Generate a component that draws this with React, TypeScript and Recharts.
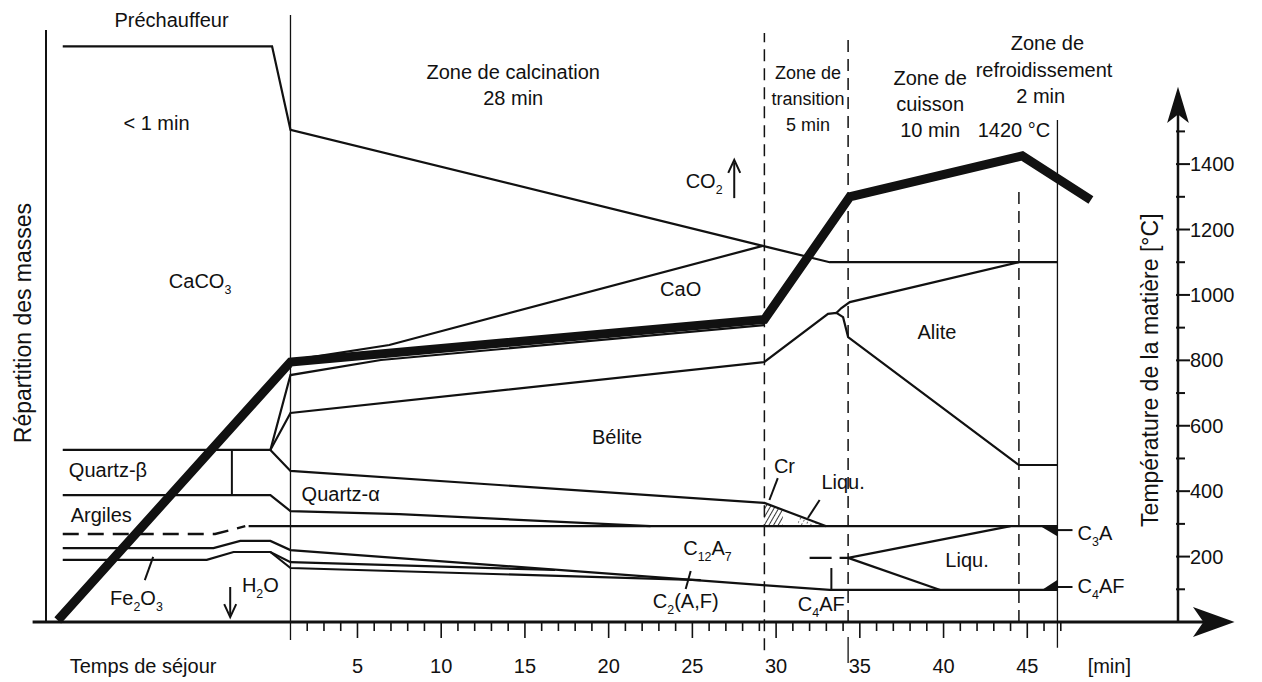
import React from "react";
import {
  Area,
  ComposedChart,
  Line,
  ReferenceDot,
  ReferenceLine,
  XAxis,
  YAxis,
} from "recharts";

const FONT = '"Liberation Sans", Arial, Helvetica, sans-serif';
const INK = "#111";

// time axis in minutes (the preheater is drawn to the left of 0), value axis in °C
const minuteTicks = [
  2, 3, 4, 5, 6, 7, 8, 9, 10, 11, 12, 13, 14, 15, 16, 17, 18, 19, 20, 21, 22, 23, 24, 25,
  26, 27, 28, 29, 30, 31, 32, 33, 34, 35, 36, 37, 38, 39, 40, 41, 42, 43, 44, 45, 46, 47,
];
const minuteLabels = [5, 10, 15, 20, 25, 30, 35, 40, 45];
const tempTicks = [100, 200, 300, 400, 500, 600, 700, 800, 900, 1000, 1100, 1200, 1300, 1400, 1500];
const tempLabels = [200, 400, 600, 800, 1000, 1200, 1400];

// material temperature (thick curve)
const tempX = [-12.9, 1.0, 29.3, 34.4, 44.7, 48.8];
const tempY = [5, 795, 925, 1300, 1425, 1290];

// mass distribution boundaries
const caco3X = [-12.6, -0.1, 1.0, 29.2, 33.2, 46.8];
const caco3Y = [1760, 1760, 1505, 1150, 1100, 1100];
const caoUpX = [1.0, 6.9, 29.2];
const caoUpY = [800, 847, 1150];
const caoLowX = [-0.2, 1.0, 6.4, 29.3];
const caoLowY = [526, 755, 801, 908];
const beliteX = [-12.6, -0.2, 1.0, 29.3, 33.1, 33.6, 34.0, 34.3, 44.5, 46.8];
const beliteY = [526, 526, 639, 795, 942, 945, 932, 871, 480, 480];
const aliteX = [33.6, 33.9, 34.4, 44.5];
const aliteY = [945, 960, 978, 1100];
const quartzAX = [-0.2, 1.0, 29.3, 33.0];
const quartzAY = [526, 462, 364, 293];
const argilesX = [-12.6, -0.2, 1.0, 7.5, 22.5];
const argilesY = [388, 388, 339, 330, 293];
const dashedX = [-12.6, -3.5, -1.7];
const dashedY = [269, 269, 293];
const c3aX = [-1.5, 46.8];
const c3aY = [293, 293];
const c3aEndX = [45.9, 46.8];
const c3aEndY = [293, 266];
const c4afX = [-12.6, -3.6, -2.0, -0.2, 1.0, 29.2, 33.2, 46.8];
const c4afY = [226, 226, 248, 248, 220, 113, 98, 98];
const fe1X = [-12.6, -4.0, -2.4, -0.2, 1.0, 16.8];
const fe1Y = [190, 190, 214, 214, 183, 159];
const fe2X = [-0.2, 1.0, 25.5];
const fe2Y = [214, 165, 128];
const c4afEndX = [46.0, 46.8];
const c4afEndY = [98, 125];
const liquDashX = [32.0, 34.3];
const liquDashY = [196, 196];
const liquUpX = [34.3, 44.0];
const liquUpY = [196, 293];
const liquLowX = [34.3, 39.8];
const liquLowY = [196, 98];

const crZone = [
  { x: 29.3, r: [293, 364] },
  { x: 30.4, r: [293, 343] },
];
const liquZone = [
  { x: 31.3, r: [293, 326] },
  { x: 32.6, r: [293, 301] },
];
// small filled corners where the C3A and C4AF lines meet the end of the kiln
const c3aCorner = [
  { x: 45.9, r: [293, 293] },
  { x: 46.8, r: [266, 293] },
];
const c4afCorner = [
  { x: 46.0, r: [98, 98] },
  { x: 46.8, r: [98, 125] },
];

const zip = (xs: number[], ys: number[]) => xs.map((x, i) => ({ x, y: ys[i] }));

const thin = [
  [caco3X, caco3Y],
  [caoUpX, caoUpY],
  [caoLowX, caoLowY],
  [beliteX, beliteY],
  [aliteX, aliteY],
  [quartzAX, quartzAY],
  [argilesX, argilesY],
  [c3aX, c3aY],
  [c3aEndX, c3aEndY],
  [c4afX, c4afY],
  [fe1X, fe1Y],
  [fe2X, fe2Y],
  [c4afEndX, c4afEndY],
  [liquUpX, liquUpY],
  [liquLowX, liquLowY],
].map(([xs, ys]) => zip(xs, ys));

// zone borders and small pointer strokes: [x1, y1, x2, y2, kind]
const segments: [number, number, number, number, string][] = [
  [1.0, -55, 1.0, 1856, "hair"],
  [29.3, -86, 29.3, 1801, "dash"],
  [34.3, 0, 34.3, 1785, "dash"],
  [34.3, -46, 34.3, -125, "hair"],
  [44.5, 0, 44.5, 1336, "dash"],
  [46.8, -79, 46.8, 1535, "hair"],
  [-13.6, 0, -13.6, 1810, "axis"],
  [-2.5, 388, -2.5, 526, "thin"],
  [-7.2, 199, -7.7, 128, "thin"],
  [30.1, 440, 29.6, 373, "thin"],
  [32.6, 373, 31.9, 318, "thin"],
  [24.9, 156, 24.6, 101, "thin"],
  [33.3, 165, 33.3, 98, "thin"],
  [46.8, 281, 47.7, 281, "thin"],
  [46.8, 107, 47.7, 107, "thin"],
  [-2.6, 107, -2.6, 22, "thin"],
  [27.5, 1296, 27.5, 1405, "thin"],
  [-14.4, 0, 56.0, 0, "xaxis"],
  [54.0, 0, 54.0, 1570, "yaxis"],
];

const labels: { x: number; y: number; t: string; s?: number; a?: string; r?: boolean }[] = [
  { x: -6.1, y: 1840, t: "Préchauffeur" },
  { x: -7.0, y: 1525, t: "< 1 min" },
  { x: -4.4, y: 1042, t: "CaCO_3" },
  { x: 14.3, y: 1681, t: "Zone de calcination" },
  { x: 14.3, y: 1602, t: "28 min" },
  { x: 31.9, y: 1681, t: "Zone de", s: 18 },
  { x: 31.9, y: 1602, t: "transition", s: 18 },
  { x: 31.9, y: 1522, t: "5 min", s: 18 },
  { x: 39.2, y: 1663, t: "Zone de" },
  { x: 39.2, y: 1584, t: "cuisson" },
  { x: 39.2, y: 1504, t: "10 min" },
  { x: 46.2, y: 1770, t: "Zone de" },
  { x: 46.0, y: 1688, t: "refroidissement" },
  { x: 45.8, y: 1608, t: "2 min" },
  { x: 44.2, y: 1504, t: "1420 °C" },
  { x: 25.7, y: 1348, t: "CO_2" },
  { x: 24.3, y: 1018, t: "CaO" },
  { x: 39.6, y: 887, t: "Alite" },
  { x: 20.5, y: 566, t: "Bélite" },
  { x: 30.5, y: 477, t: "Cr" },
  { x: 34.0, y: 428, t: "Liqu." },
  { x: -9.9, y: 465, t: "Quartz-β" },
  { x: 4.0, y: 391, t: "Quartz-α" },
  { x: -10.3, y: 327, t: "Argiles" },
  { x: -8.2, y: 73, t: "Fe_2O_3" },
  { x: -0.8, y: 113, t: "H_2O" },
  { x: 25.9, y: 226, t: "C_12A_7" },
  { x: 24.6, y: 64, t: "C_2(A,F)" },
  { x: 32.7, y: 55, t: "C_4AF" },
  { x: 41.4, y: 190, t: "Liqu." },
  { x: 48.0, y: 272, t: "C_3A", a: "start" },
  { x: 48.0, y: 110, t: "C_4AF", a: "start" },
  { x: -7.8, y: -135, t: "Temps de séjour" },
  { x: 49.9, y: -135, t: "[min]" },
  { x: -15.0, y: 914, t: "Répartition des masses", s: 23, r: true },
  { x: 52.3, y: 770, t: "Température de la matière [°C]", s: 23, r: true },
];

const Rich = ({ x, y, text, size = 20, anchor = "middle", rotate = false }: any) => {
  const parts: string[] = text.match(/_\d+|[^_]+/g) || [];
  const shift = Math.round(size * 0.3);
  let low = false;
  return (
    <text
      x={x}
      y={y + size * 0.36}
      textAnchor={anchor}
      fontFamily={FONT}
      fontSize={size}
      fill={INK}
      transform={rotate ? `rotate(-90 ${x} ${y})` : undefined}
    >
      {parts.map((p, i) => {
        if (p.startsWith("_")) {
          const el = (
            <tspan key={i} dy={low ? 0 : shift} fontSize={size * 0.62}>
              {p.slice(1)}
            </tspan>
          );
          low = true;
          return el;
        }
        const el = (
          <tspan key={i} dy={low ? -shift : 0}>
            {p}
          </tspan>
        );
        low = false;
        return el;
      })}
    </text>
  );
};

const XTick = (p: any) => {
  const v = p.payload.value;
  const major = minuteLabels.includes(v);
  return (
    <g>
      <line x1={p.x} x2={p.x} y1={p.y} y2={p.y + (major ? 16 : 9)} stroke={INK} strokeWidth={1.6} />
      {major && (
        <text x={p.x} y={p.y + 51} textAnchor="middle" fontFamily={FONT} fontSize={20} fill={INK}>
          {v}
        </text>
      )}
    </g>
  );
};

const YTick = (p: any) => {
  const v = p.payload.value;
  const major = tempLabels.includes(v);
  return (
    <g>
      <line x1={p.x - 2} x2={p.x + (major ? 12 : 7)} y1={p.y} y2={p.y} stroke={INK} strokeWidth={2} />
      {major && (
        <text x={p.x + 12} y={p.y + 7} textAnchor="start" fontFamily={FONT} fontSize={20} fill={INK}>
          {v}
        </text>
      )}
    </g>
  );
};

const segStyle: Record<string, any> = {
  hair: { stroke: INK, strokeWidth: 1.3 },
  dash: { stroke: INK, strokeWidth: 1.5, strokeDasharray: "12 7" },
  axis: { stroke: INK, strokeWidth: 2 },
  thin: { stroke: INK, strokeWidth: 2 },
  xaxis: { stroke: INK, strokeWidth: 3 },
  yaxis: { stroke: INK, strokeWidth: 2.5 },
};

const arrow = (d: (cx: number, cy: number) => string, filled: boolean) => (p: any) => (
  <path
    d={d(p.cx, p.cy)}
    fill={filled ? INK : "none"}
    stroke={INK}
    strokeWidth={2}
    strokeLinejoin="miter"
  />
);

const zoneFill = (data: any[], fill: string, key: string) => (
  <Area
    key={key}
    data={data}
    dataKey="r"
    type="linear"
    stroke="none"
    fill={fill}
    fillOpacity={1}
    dot={false}
    activeDot={false}
    isAnimationActive={false}
  />
);

export default function App() {
  return (
    <div style={{ position: "absolute", left: 0, top: 0, width: 1262, height: 682, background: "#fff" }}>
      <ComposedChart width={1262} height={682} margin={{ top: 30, right: 24, bottom: 20, left: 46 }}>
        <defs>
          <pattern id="hatchCr" width="4" height="4" patternUnits="userSpaceOnUse" patternTransform="rotate(30)">
            <line x1="0" y1="0" x2="0" y2="4" stroke={INK} strokeWidth="1.7" />
          </pattern>
          <pattern id="hatchLiq" width="4" height="4" patternUnits="userSpaceOnUse" patternTransform="rotate(30)">
            <line x1="0" y1="0" x2="0" y2="2" stroke={INK} strokeWidth="1.2" />
          </pattern>
        </defs>
        <XAxis
          type="number"
          dataKey="x"
          domain={[-13.6, 54]}
          ticks={minuteTicks}
          interval={0}
          axisLine={false}
          tickLine={false}
          tickSize={0}
          tickMargin={0}
          height={40}
          tick={<XTick />}
        />
        <YAxis
          orientation="right"
          type="number"
          domain={[0, 1810]}
          ticks={tempTicks}
          interval={0}
          axisLine={false}
          tickLine={false}
          tickSize={0}
          tickMargin={0}
          width={60}
          tick={<YTick />}
        />
        {zoneFill(crZone, "url(#hatchCr)", "cr")}
        {zoneFill(liquZone, "url(#hatchLiq)", "liq")}
        {zoneFill(c3aCorner, INK, "c3a")}
        {zoneFill(c4afCorner, INK, "c4af")}
        {segments.map(([x1, y1, x2, y2, kind], i) => (
          <ReferenceLine
            key={"s" + i}
            segment={[
              { x: x1, y: y1 },
              { x: x2, y: y2 },
            ]}
            ifOverflow="visible"
            {...segStyle[kind]}
          />
        ))}
        {thin.map((d, i) => (
          <Line
            key={"l" + i}
            data={d}
            dataKey="y"
            type="linear"
            stroke={INK}
            strokeWidth={2.2}
            dot={false}
            activeDot={false}
            isAnimationActive={false}
          />
        ))}
        <Line
          data={zip(dashedX, dashedY)}
          dataKey="y"
          type="linear"
          stroke={INK}
          strokeWidth={2.4}
          strokeDasharray="16 9"
          dot={false}
          activeDot={false}
          isAnimationActive={false}
        />
        <Line
          data={zip(liquDashX, liquDashY)}
          dataKey="y"
          type="linear"
          stroke={INK}
          strokeWidth={2.4}
          strokeDasharray="22 8"
          dot={false}
          activeDot={false}
          isAnimationActive={false}
        />
        <Line
          data={zip(tempX, tempY)}
          dataKey="y"
          type="linear"
          stroke={INK}
          strokeWidth={9}
          strokeLinejoin="miter"
          dot={false}
          activeDot={false}
          isAnimationActive={false}
        />
        <ReferenceDot x={57.2} y={0} r={0} ifOverflow="visible"
          shape={arrow((cx, cy) => `M${cx},${cy} L${cx - 36},${cy - 13} L${cx - 27},${cy} L${cx - 36},${cy + 13} Z`, true)} />
        <ReferenceDot x={54} y={1626} r={0} ifOverflow="visible"
          shape={arrow((cx, cy) => `M${cx},${cy} L${cx - 9},${cy + 30} L${cx},${cy + 23} L${cx + 9},${cy + 30} Z`, true)} />
        <ReferenceDot x={-2.6} y={15} r={0} ifOverflow="visible"
          shape={arrow((cx, cy) => `M${cx - 6},${cy - 13} L${cx},${cy} L${cx + 6},${cy - 13}`, false)} />
        <ReferenceDot x={27.5} y={1413} r={0} ifOverflow="visible"
          shape={arrow((cx, cy) => `M${cx - 6},${cy + 13} L${cx},${cy} L${cx + 6},${cy + 13}`, false)} />
        {labels.map((l, i) => (
          <ReferenceDot
            key={"t" + i}
            x={l.x}
            y={l.y}
            r={0}
            ifOverflow="visible"
            shape={(p: any) => <Rich x={p.cx} y={p.cy} text={l.t} size={l.s ?? 20} anchor={l.a ?? "middle"} rotate={l.r} />}
          />
        ))}
      </ComposedChart>
    </div>
  );
}
